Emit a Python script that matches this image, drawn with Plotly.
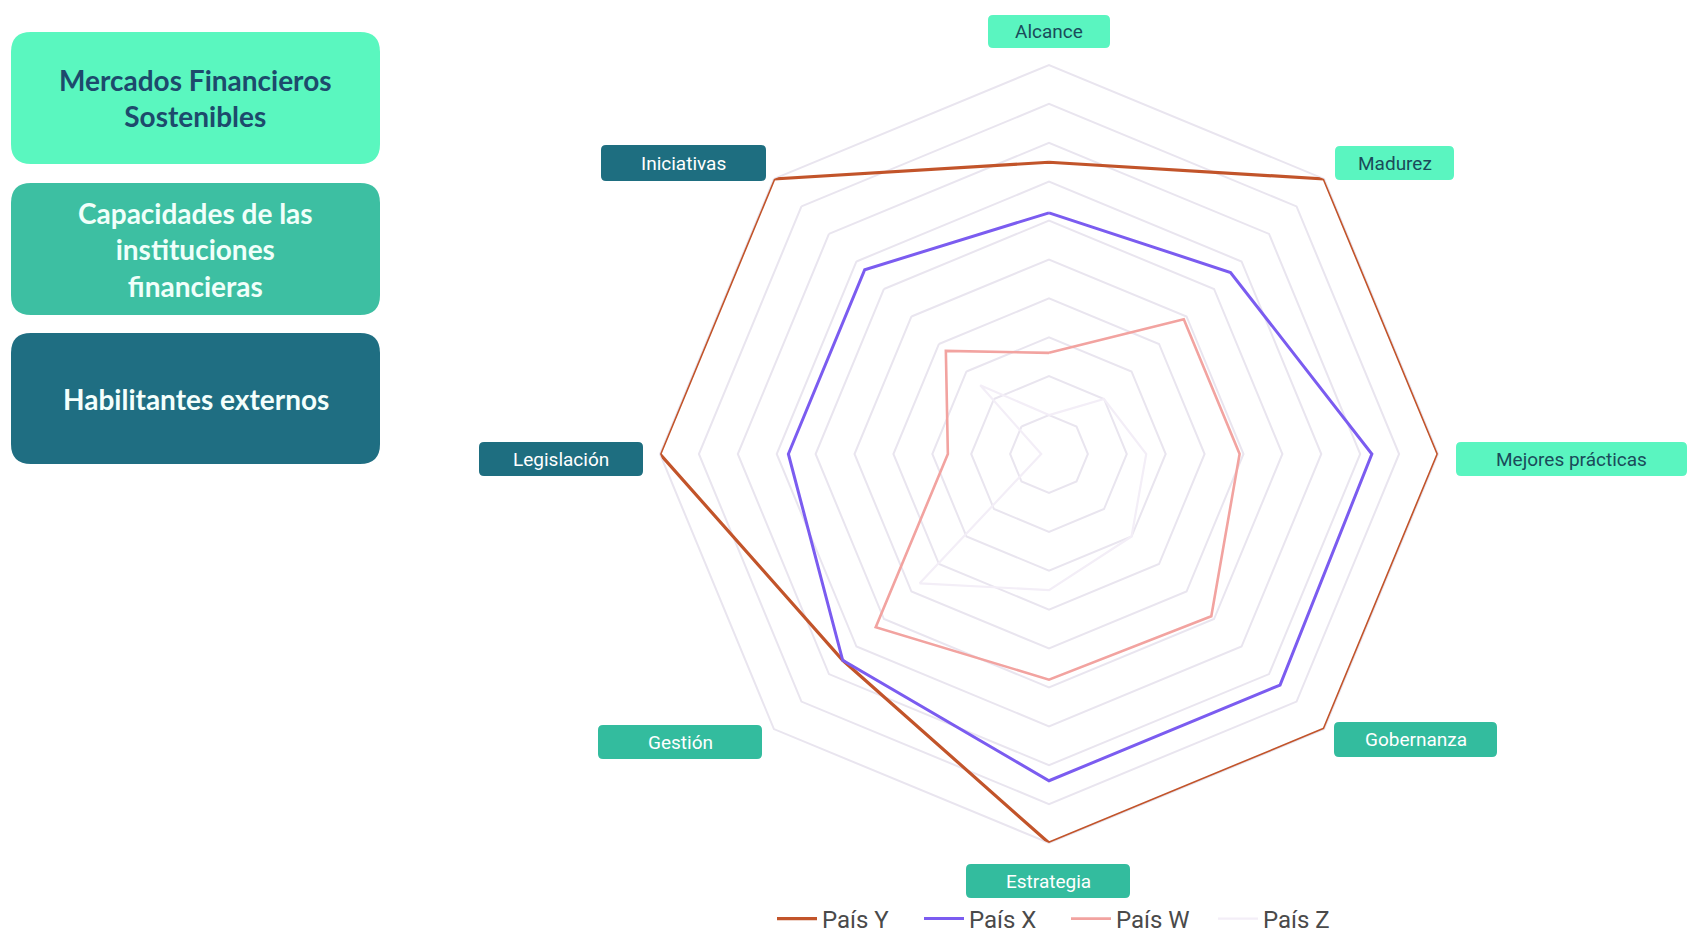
import plotly.graph_objects as go

# ---------------- data ----------------
categories = ["Alcance", "Madurez", "Mejores prácticas", "Gobernanza",
              "Estrategia", "Gestión", "Legislación", "Iniciativas"]
series_names = ["País Y", "País X", "País W", "País Z"]
pais_y = [7.5, 10, 10, 10, 10, 7.5, 10, 10]
pais_x = [6.2, 6.6, 8.3, 8.4, 8.4, 7.5, 6.7, 6.7]
pais_w = [2.6, 4.9, 4.9, 5.9, 5.8, 6.3, 2.6, 3.75]
pais_z = [1.0, 2.0, 2.5, 3.0, 3.5, 4.7, 0.2, 2.5]
series_values = [pais_y, pais_x, pais_w, pais_z]
pillars = ["Mercados Financieros<br>Sostenibles",
           "Capacidades de las<br>instituciones<br>financieras",
           "Habilitantes externos"]

# ---------------- styles ----------------
W, H = 1689, 944
line_colors = ["#C2542A", "#7B5CF0", "#F2A3A0", "#F3EEF7"]
line_widths = [3.2, 3, 2.6, 2.2]
grid_color = "#E9E5EF"

MINT, MID, DARK = "#5AF5C0", "#33BC9E", "#1E6E80"
label_style = {
    "Alcance": (MINT, "#1A4B5A"), "Madurez": (MINT, "#1A4B5A"),
    "Mejores prácticas": (MINT, "#1A4B5A"),
    "Gobernanza": (MID, "#FFFFFF"), "Estrategia": (MID, "#FFFFFF"),
    "Gestión": (MID, "#FFFFFF"),
    "Legislación": (DARK, "#FFFFFF"), "Iniciativas": (DARK, "#FFFFFF"),
}
label_boxes = {  # pixel boxes x0, y0, x1, y1
    "Alcance": (988, 15, 1110, 48),
    "Madurez": (1335, 146, 1454, 180),
    "Mejores prácticas": (1456, 442, 1687, 476),
    "Gobernanza": (1334, 722, 1497, 757),
    "Estrategia": (966, 864, 1130, 898),
    "Gestión": (598, 725, 762, 759),
    "Legislación": (479, 442, 643, 476),
    "Iniciativas": (601, 145, 766, 181),
}
pillar_boxes = [(11, 32, 380, 164), (11, 183, 380, 315), (11, 333, 380, 464)]
pillar_fill = ["#5AF7BF", "#3DBFA2", "#1F6E82"]
pillar_text = ["#1D4A6C", "#F0FFFA", "#F4FFFC"]

cx, cy, R = 1049, 454, 389


def px(x):
    return x / W


def py(y):
    return 1 - y / H


def rrect(x0, y0, x1, y1, r):
    pts = [("M", [(x0 + r, y0)]), ("L", [(x1 - r, y0)]),
           ("Q", [(x1, y0), (x1, y0 + r)]), ("L", [(x1, y1 - r)]),
           ("Q", [(x1, y1), (x1 - r, y1)]), ("L", [(x0 + r, y1)]),
           ("Q", [(x0, y1), (x0, y1 - r)]), ("L", [(x0, y0 + r)]),
           ("Q", [(x0, y0), (x0 + r, y0)])]
    s = ""
    for cmd, ps in pts:
        s += cmd + " " + " ".join(f"{px(a):.6f},{py(b):.6f}" for a, b in ps) + " "
    return s + "Z"


fig = go.Figure()
for name, vals, col, lw in zip(series_names, series_values, line_colors, line_widths):
    fig.add_trace(go.Scatterpolar(
        r=vals + vals[:1], theta=categories + categories[:1],
        mode="lines", name=name,
        line=dict(color=col, width=lw),
        hoverinfo="skip"))

shapes = []
annotations = []
for (x0, y0, x1, y1), fc, tc, txt in zip(pillar_boxes, pillar_fill, pillar_text, pillars):
    shapes.append(dict(type="path", path=rrect(x0, y0, x1, y1, 20),
                       xref="paper", yref="paper", fillcolor=fc,
                       line=dict(width=0), layer="below"))
    annotations.append(dict(text=f"<b>{txt}</b>", x=px((x0 + x1) / 2),
                            y=py((y0 + y1) / 2), xref="paper", yref="paper",
                            showarrow=False, xanchor="center", yanchor="middle",
                            font=dict(family="Lato", size=28, color=tc)))

for cat in categories:
    x0, y0, x1, y1 = label_boxes[cat]
    fc, tc = label_style[cat]
    shapes.append(dict(type="path", path=rrect(x0, y0, x1, y1, 5),
                       xref="paper", yref="paper", fillcolor=fc,
                       line=dict(width=0), layer="below"))
    annotations.append(dict(text=cat, x=px((x0 + x1) / 2), y=py((y0 + y1) / 2),
                            xref="paper", yref="paper", showarrow=False,
                            xanchor="center", yanchor="middle",
                            font=dict(family="Roboto", size=19, color=tc)))

fig.update_layout(
    width=W, height=H,
    margin=dict(l=0, r=0, t=0, b=0),
    paper_bgcolor="white",
    showlegend=True,
    polar=dict(
        domain=dict(x=[px(cx - R), px(cx + R)], y=[py(cy + R), py(cy - R)]),
        bgcolor="white",
        gridshape="linear",
        radialaxis=dict(range=[0, 10], dtick=1, showticklabels=False,
                        ticks="", showline=False, gridcolor=grid_color,
                        gridwidth=2, layer="below traces"),
        angularaxis=dict(rotation=90, direction="clockwise",
                         showticklabels=False, ticks="", showgrid=False,
                         showline=True, linecolor=grid_color, linewidth=2,
                         layer="below traces"),
    ),
    legend=dict(orientation="h", x=px(772), y=py(919), xanchor="left",
                yanchor="middle", font=dict(family="Roboto", size=24,
                                            color="#4A4A4A"),
                entrywidth=92, entrywidthmode="pixels",
                itemwidth=40, bgcolor="rgba(0,0,0,0)"),
    shapes=shapes,
    annotations=annotations,
)

fig.write_html("out.html")
